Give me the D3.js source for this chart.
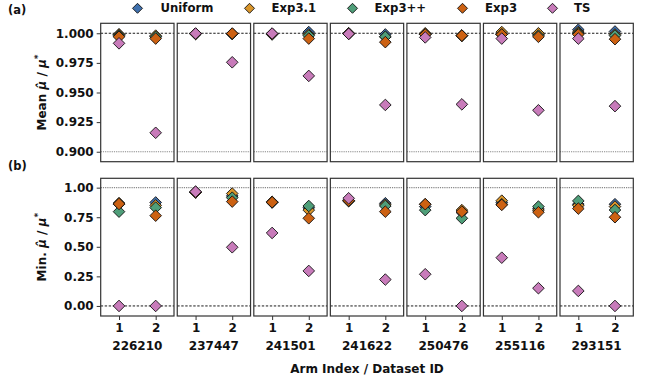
<!DOCTYPE html>
<html>
<head>
<meta charset="utf-8">
<script src="https://cdn.jsdelivr.net/npm/d3@7"></script>
<style>
  html, body { margin: 0; padding: 0; background: #fff; }
  svg text { font-family: "DejaVu Sans", sans-serif; font-weight: bold; fill: #111; }
</style>
</head>
<body>
<svg id="chart" width="649" height="382"></svg>
<script>
// Dataset IDs and arms
const datasets = ["226210", "237447", "241501", "241622", "250476", "255116", "293151"];
const arms = [1, 2];
const methods = ["Uniform", "Exp3.1", "Exp3++", "Exp3", "TS"];
const colors = ["#3f70ad", "#d9952b", "#4f9e79", "#cc6112", "#c87bba"];

// Mean estimate relative to true mean, [arm1, arm2] per dataset
const meanUniform = [[0.999, 0.997], [0.9995, 0.9995], [0.9995, 1.001], [1.000, 0.999], [0.999, 0.998], [0.999, 0.999], [1.003, 1.0015]];
const meanExp31   = [[0.999, 0.998], [0.9995, 0.9995], [0.9995, 0.999], [1.000, 0.997], [1.000, 0.998], [1.001, 1.000], [1.001, 0.999]];
const meanExp3pp  = [[0.998, 0.997], [0.9995, 0.9995], [0.999, 0.998], [0.9995, 0.997], [0.999, 0.998], [0.999, 0.998], [1.000, 0.998]];
const meanExp3    = [[0.997, 0.9955], [0.9995, 0.9998], [0.9995, 0.9955], [0.9995, 0.9925], [0.999, 0.998], [0.999, 0.997], [0.999, 0.995]];
const meanTS      = [[0.9915, 0.916], [0.9998, 0.9755], [0.9998, 0.964], [0.9995, 0.9395], [0.9965, 0.940], [0.9955, 0.935], [0.9955, 0.9385]];

// Minimum estimate relative to true mean, [arm1, arm2] per dataset
const minUniform = [[0.86, 0.875], [0.96, 0.93], [0.875, 0.83], [0.89, 0.868], [0.84, 0.79], [0.875, 0.82], [0.86, 0.86]];
const minExp31   = [[0.87, 0.85], [0.965, 0.95], [0.88, 0.81], [0.89, 0.855], [0.86, 0.81], [0.89, 0.81], [0.85, 0.84]];
const minExp3pp  = [[0.797, 0.831], [0.96, 0.915], [0.875, 0.845], [0.885, 0.845], [0.81, 0.741], [0.86, 0.84], [0.888, 0.811]];
const minExp3    = [[0.862, 0.763], [0.96, 0.882], [0.877, 0.741], [0.89, 0.797], [0.86, 0.797], [0.854, 0.792], [0.823, 0.75]];
const minTS      = [[0.0, 0.0], [0.966, 0.496], [0.617, 0.296], [0.91, 0.223], [0.268, 0.0], [0.408, 0.15], [0.127, 0.0]];

const meanTicks = [0.900, 0.925, 0.950, 0.975, 1.000];
const minTicks = [0.00, 0.25, 0.50, 0.75, 1.00];

const meanSeries = [meanUniform, meanExp31, meanExp3pp, meanExp3, meanTS];
const minSeries = [minUniform, minExp31, minExp3pp, minExp3, minTS];

const svg = d3.select("#chart");

// layout
const panelLeft0 = 100.7, panelW = 73.3, panelStep = 76.55;
const rows = [
  { top: 23.3, bottom: 161.7, domain: [0.8916, 1.0084], ticks: meanTicks, fmt: d3.format(".3f"),
    series: meanSeries, solid: 1.0, dotted: 0.9, label: "Mean", tag: "(a)", tagY: 14 },
  { top: 178.3, bottom: 316, domain: [-0.085, 1.079], ticks: minTicks, fmt: d3.format(".2f"),
    series: minSeries, solid: 0.0, dotted: 1.0, label: "Min.", tag: "(b)", tagY: 170 }
];

const diamond = (r) => `M0,${-r}L${r},0L0,${r}L${-r},0Z`;

rows.forEach((row, ri) => {
  const y = d3.scaleLinear().domain(row.domain).range([row.bottom, row.top]);

  datasets.forEach((ds, di) => {
    const x0 = panelLeft0 + di * panelStep;
    const x = d3.scaleLinear().domain([0.5, 2.5]).range([x0, x0 + panelW]);
    const g = svg.append("g");

    // reference lines
    g.append("line")
      .attr("x1", x0).attr("x2", x0 + panelW)
      .attr("y1", y(row.dotted)).attr("y2", y(row.dotted))
      .attr("stroke", "#888").attr("stroke-width", 1.1).attr("stroke-dasharray", "1.2,1");
    g.append("line")
      .attr("x1", x0).attr("x2", x0 + panelW)
      .attr("y1", y(row.solid)).attr("y2", y(row.solid))
      .attr("stroke", "#000").attr("stroke-width", 0.9).attr("stroke-dasharray", "2.4,1.6");

    // markers, drawn in method order so later methods sit on top
    row.series.forEach((ser, mi) => {
      arms.forEach((arm, ai) => {
        g.append("path")
          .attr("d", diamond(5.8))
          .attr("transform", `translate(${x(arm)},${y(ser[di][ai])})`)
          .attr("fill", colors[mi])
          .attr("stroke", "#111").attr("stroke-width", 0.9);
      });
    });

    // frame
    g.append("rect")
      .attr("x", x0).attr("y", row.top)
      .attr("width", panelW).attr("height", row.bottom - row.top)
      .attr("fill", "none").attr("stroke", "#333").attr("stroke-width", 1.2);

    // y axis on first panel
    if (di === 0) {
      const ax = svg.append("g")
        .attr("transform", `translate(${x0},0)`)
        .call(d3.axisLeft(y).tickValues(row.ticks).tickFormat(row.fmt).tickSize(4).tickPadding(3));
      ax.select(".domain").remove();
      ax.selectAll("line").attr("stroke", "#333").attr("stroke-width", 1);
      ax.selectAll("text").attr("font-size", 12).attr("font-family", "DejaVu Sans").attr("font-weight", "bold").attr("fill", "#111");
    }

    // x axis on the bottom row
    if (ri === 1) {
      const ax = svg.append("g")
        .attr("transform", `translate(0,${row.bottom})`)
        .call(d3.axisBottom(x).tickValues(arms).tickFormat(d3.format("d")).tickSize(4).tickPadding(3));
      ax.select(".domain").remove();
      ax.selectAll("line").attr("stroke", "#333").attr("stroke-width", 1);
      ax.selectAll("text").attr("font-size", 12).attr("font-family", "DejaVu Sans").attr("font-weight", "bold").attr("fill", "#111");
      svg.append("text")
        .attr("x", x0 + panelW / 2).attr("y", 346)
        .attr("text-anchor", "middle").attr("dominant-baseline", "central")
        .attr("font-size", 12).text(ds);
    }
  });

  // y label: "<label> μ̂ / μ*"
  const cy = (row.top + row.bottom) / 2;
  const lab = svg.append("text")
    .attr("transform", `translate(46,${cy}) rotate(-90)`)
    .attr("text-anchor", "middle")
    .attr("font-size", 12);
  lab.append("tspan").text(row.label + " ");
  lab.append("tspan").attr("font-style", "italic").text("\u03BC\u0302");
  lab.append("tspan").text(" / ");
  lab.append("tspan").attr("font-style", "italic").text("\u03BC");
  lab.append("tspan").attr("font-size", 9).attr("dy", -5).text("*");

  // panel tag
  svg.append("text").attr("x", 8).attr("y", row.tagY).attr("font-size", 11.5).text(row.tag);
});

// x axis title
svg.append("text")
  .attr("x", 367).attr("y", 369)
  .attr("text-anchor", "middle").attr("dominant-baseline", "central")
  .attr("font-size", 12).text("Arm Index / Dataset ID");

// legend
const legendMarkerX = [137.5, 249.5, 352.5, 462.5, 552.5];
const legendTextX = [160.5, 271.5, 374.5, 485, 574];
methods.forEach((m, i) => {
  svg.append("path")
    .attr("d", diamond(5))
    .attr("transform", `translate(${legendMarkerX[i]},8.3)`)
    .attr("fill", colors[i]).attr("stroke", "#111").attr("stroke-width", 0.9);
  svg.append("text")
    .attr("x", legendTextX[i]).attr("y", 8.3)
    .attr("dominant-baseline", "central")
    .attr("font-size", 11.7).text(m);
});
</script>
</body>
</html>
